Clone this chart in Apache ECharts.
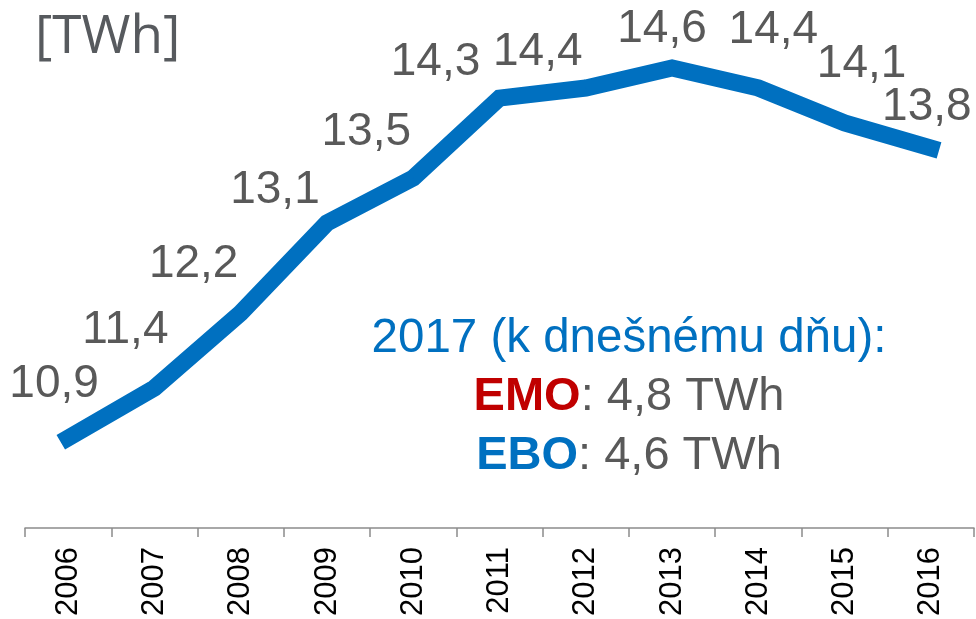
<!DOCTYPE html>
<html>
<head>
<meta charset="utf-8">
<script src="https://cdn.jsdelivr.net/npm/echarts@6/dist/echarts.min.js"></script>
<style>
    html, body { margin: 0; padding: 0; background: #fff; }
    #chart { width: 976px; height: 619px; }
</style>
</head>
<body>
<div id="chart"></div>
<script>
    // data
    const years = ['2006', '2007', '2008', '2009', '2010', '2011', '2012', '2013', '2014', '2015', '2016'];
    const production = [10.9, 11.4, 12.15, 13.05, 13.5, 14.3, 14.4, 14.6, 14.4, 14.05, 13.8];
    const valueLabels = ['10,9', '11,4', '12,2', '13,1', '13,5', '14,3', '14,4', '14,6', '14,4', '14,1', '13,8'];

    // where each value label sits relative to its point (layout only)
    const labelShift = [[-14, -54], [-29, -58], [-47, -49], [-52, -33], [-47, -46], [-64, -36],
        [-48, -36], [-10, -39], [15, -58], [17, -59], [-4, -41]];

    const blue = '#0070C0';
    const grey = '#595959';

    const chart = echarts.init(document.getElementById('chart'));

    let seriesData = production.map(function (v, i) {
        return {
            value: v,
            label: { formatter: valueLabels[i], offset: labelShift[i] }
        };
    });

    let option = {
        animation: false,
        grid: { left: 25, right: 2, top: 0, bottom: 91 },
        xAxis: {
            type: 'category',
            data: years,
            boundaryGap: true,
            axisLine: { lineStyle: { color: '#8c8c8c', width: 1.5 } },
            axisTick: { show: true, length: 9, lineStyle: { color: '#8c8c8c', width: 1.5 } },
            axisLabel: {
                rotate: 90,
                margin: 19,
                color: '#000',
                fontSize: 31,
                fontFamily: 'Liberation Sans'
            }
        },
        yAxis: {
            type: 'value',
            min: 10,
            max: 15.28,
            show: false,
            splitLine: { show: false }
        },
        series: [{
            type: 'line',
            data: seriesData,
            symbol: 'circle',
            symbolSize: 1,
            showSymbol: true,
            itemStyle: { color: blue },
            lineStyle: { color: blue, width: 17, cap: 'square', join: 'miter' },
            label: {
                show: true,
                position: 'inside',
                align: 'center',
                verticalAlign: 'middle',
                color: grey,
                fontSize: 46,
                fontFamily: 'Liberation Sans'
            }
        }],
        graphic: [
            {
                type: 'text',
                x: 35,
                y: 38,
                style: {
                    text: '[TWh]',
                    fill: '#575a5e',
                    font: '53px "Open Sans"',
                    verticalAlign: 'middle'
                }
            },
            {
                type: 'text',
                x: 629,
                y: 309,
                style: {
                    text: '{a|2017 (k dnešnému dňu):}\n{r|EMO}{g|: 4,8 TWh}\n{b|EBO}{g|: 4,6 TWh}',
                    align: 'center',
                    verticalAlign: 'top',
                    rich: {
                        a: { fill: blue, fontSize: 47.5, fontFamily: 'Liberation Sans', lineHeight: 59 },
                        r: { fill: '#C00000', fontSize: 47, fontWeight: 'bold', fontFamily: 'Liberation Sans', lineHeight: 59 },
                        b: { fill: blue, fontSize: 47, fontWeight: 'bold', fontFamily: 'Liberation Sans', lineHeight: 59 },
                        g: { fill: grey, fontSize: 47, fontFamily: 'Liberation Sans', lineHeight: 59 }
                    }
                }
            }
        ]
    };
    chart.setOption(option);
</script>
</body>
</html>
